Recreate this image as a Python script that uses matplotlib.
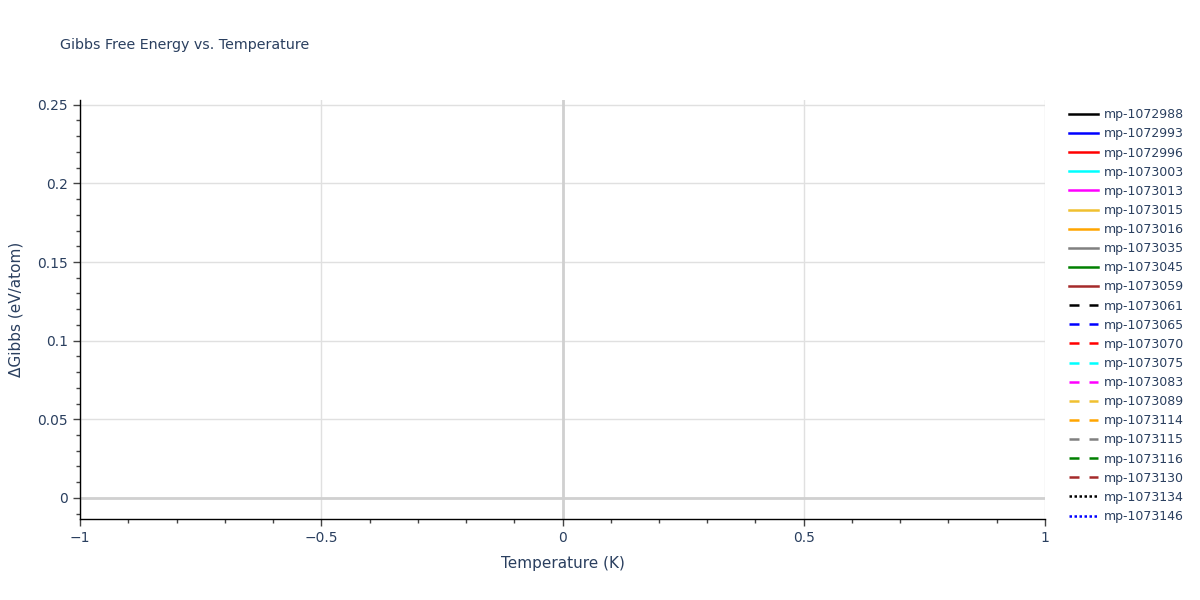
import matplotlib
matplotlib.use("Agg")
import matplotlib.pyplot as plt
from matplotlib.ticker import MultipleLocator

# materials shown in the legend (every trace is empty in the source chart)
materials = [
    "mp-1072988", "mp-1072993", "mp-1072996", "mp-1073003", "mp-1073013",
    "mp-1073015", "mp-1073016", "mp-1073035", "mp-1073045", "mp-1073059",
    "mp-1073061", "mp-1073065", "mp-1073070", "mp-1073075", "mp-1073083",
    "mp-1073089", "mp-1073114", "mp-1073115", "mp-1073116", "mp-1073130",
    "mp-1073134", "mp-1073146",
]
temperatures = [[] for _ in materials]
gibbs = [[] for _ in materials]

x_ticks = [-1, -0.5, 0, 0.5, 1]
y_ticks = [0, 0.05, 0.1, 0.15, 0.2, 0.25]

palette = ["black", "blue", "red", "cyan", "magenta",
           "#f0c030", "orange", "gray", "green", "brown"]
text_color = "#2a3f5f"

plt.rcParams["font.family"] = ["DejaVu Sans"]

fig = plt.figure(figsize=(12, 6), dpi=100)
ax = fig.add_axes([0.0667, 0.135, 0.8041, 0.6983])

for i, name in enumerate(materials):
    if i < 10:
        ls = "-"
    elif i < 20:
        ls = (0, (4, 4))
    else:
        ls = (0, (1, 1))
    ax.plot(temperatures[i], gibbs[i], color=palette[i % 10], lw=1.8,
            linestyle=ls, label=name)

ax.set_xlim(-1, 1)
ax.set_ylim(-0.0134, 0.253)
ax.set_xticks(x_ticks)
ax.set_xticklabels(["\u22121", "\u22120.5", "0", "0.5", "1"])
ax.set_yticks(y_ticks)
ax.set_yticklabels(["0", "0.05", "0.1", "0.15", "0.2", "0.25"])
ax.xaxis.set_minor_locator(MultipleLocator(0.1))
ax.yaxis.set_minor_locator(MultipleLocator(0.01))

ax.grid(True, which="major", color="#e0e0e0", lw=1)
ax.axvline(0, color="#d0d0d0", lw=2, zorder=1)
ax.axhline(0, color="#d0d0d0", lw=2, zorder=1)
ax.set_axisbelow(True)

for side in ("top", "right"):
    ax.spines[side].set_visible(False)
for side in ("left", "bottom"):
    ax.spines[side].set_color("black")
    ax.spines[side].set_linewidth(1)

ax.tick_params(which="major", direction="out", length=5, width=1,
               color="#444444", labelcolor=text_color, labelsize=10)
ax.tick_params(which="minor", direction="out", length=3, width=1,
               color="#444444")

ax.set_xlabel("Temperature (K)", color=text_color, fontsize=11, labelpad=8)
ax.set_ylabel("\u0394Gibbs (eV/atom)", color=text_color, fontsize=11, labelpad=10)

fig.text(0.05, 0.925, "Gibbs Free Energy vs. Temperature",
         color=text_color, fontsize=10.3, va="center")

leg = ax.legend(loc="upper left", bbox_to_anchor=(1.02, 0.992), frameon=False,
                fontsize=9, handlelength=2.3, labelspacing=0.49,
                handletextpad=0.5, borderaxespad=0)
for t in leg.get_texts():
    t.set_color(text_color)

fig.savefig("out.png", dpi=100)
